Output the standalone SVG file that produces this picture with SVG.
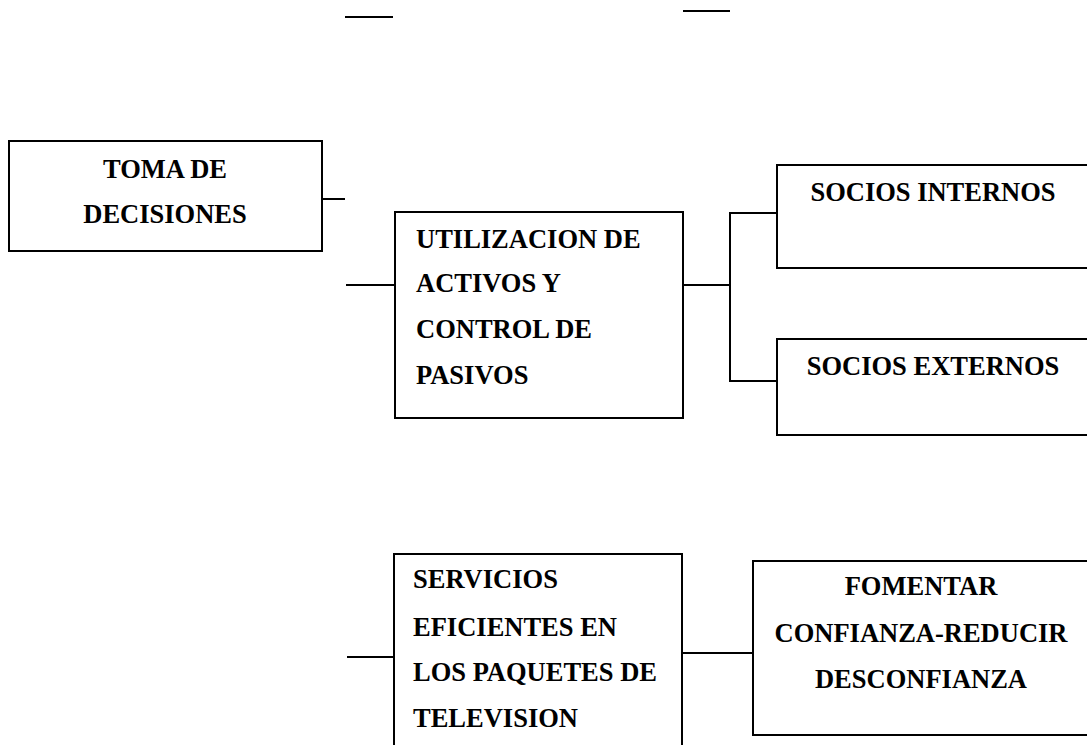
<svg xmlns="http://www.w3.org/2000/svg" width="1087" height="745" viewBox="0 0 1087 745">
<style>
.box{fill:#fff;stroke:#000;stroke-width:2}
.ln{fill:none;stroke:#000;stroke-width:2}
text{font-family:"Liberation Serif","Times New Roman",serif;font-weight:bold;font-size:26.5px;fill:#000}
.c{text-anchor:middle}
</style>
<rect width="1087" height="745" fill="#fff"/>
<g id="connectors">
<line class="ln" x1="345" y1="17" x2="393" y2="17"/>
<line class="ln" x1="683" y1="11" x2="730" y2="11"/>
<line class="ln" x1="322" y1="199" x2="345" y2="199"/>
<line class="ln" x1="346" y1="285" x2="395" y2="285"/>
<line class="ln" x1="683" y1="285" x2="730" y2="285"/>
<polyline class="ln" points="777,213 730,213 730,381 777,381"/>
<line class="ln" x1="347" y1="657" x2="394" y2="657"/>
<line class="ln" x1="682" y1="653" x2="753" y2="653"/>
</g>
<g id="toma">
<rect class="box" x="9" y="141" width="313" height="110"/>
<text class="c" x="165" y="178">TOMA DE</text>
<text class="c" x="165" y="223">DECISIONES</text>
</g>
<g id="utilizacion">
<rect class="box" x="395" y="212" width="288" height="206"/>
<text x="416" y="248">UTILIZACION DE</text>
<text x="416" y="292">ACTIVOS Y</text>
<text x="416" y="338">CONTROL DE</text>
<text x="416" y="384">PASIVOS</text>
</g>
<g id="internos">
<rect class="box" x="777" y="165" width="320" height="103"/>
<text class="c" x="933" y="201">SOCIOS INTERNOS</text>
</g>
<g id="externos">
<rect class="box" x="777" y="339" width="320" height="96"/>
<text class="c" x="933" y="375">SOCIOS EXTERNOS</text>
</g>
<g id="servicios">
<rect class="box" x="394" y="554" width="288" height="200"/>
<text x="413" y="588">SERVICIOS</text>
<text x="413" y="636">EFICIENTES EN</text>
<text x="413" y="681">LOS PAQUETES DE</text>
<text x="413" y="727">TELEVISION</text>
</g>
<g id="fomentar">
<rect class="box" x="753" y="561" width="344" height="174"/>
<text class="c" x="921" y="595">FOMENTAR</text>
<text class="c" x="921" y="642">CONFIANZA-REDUCIR</text>
<text class="c" x="921" y="688">DESCONFIANZA</text>
</g>
</svg>
